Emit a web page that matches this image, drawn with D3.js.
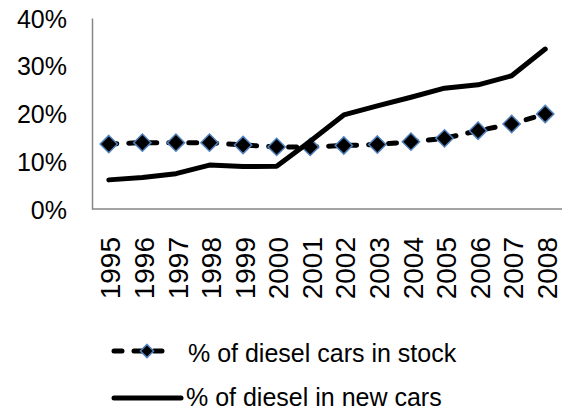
<!DOCTYPE html>
<html>
<head>
<meta charset="utf-8">
<script src="https://cdn.jsdelivr.net/npm/d3@7"></script>
<style>
	body { margin: 0; background: #fff; }
	text { font-family: 'Liberation Sans', Arial, sans-serif; fill: #000; }
</style>
</head>
<body>
<script>
const years = ['1995', '1996', '1997', '1998', '1999', '2000', '2001', '2002', '2003', '2004', '2005', '2006', '2007', '2008']
const stockShare = [13.6, 13.9, 13.9, 13.9, 13.4, 13.0, 13.0, 13.3, 13.5, 14.1, 14.8, 16.4, 17.8, 19.9]
const newCarShare = [6.1, 6.6, 7.4, 9.2, 8.9, 8.95, 14.2, 19.7, 21.6, 23.4, 25.3, 26.0, 27.9, 33.5]
const yTicks = [0, 10, 20, 30, 40]
const seriesNames = ['% of diesel cars in stock', '% of diesel in new cars']

const W = 570, H = 412
const mLeft = 92, mRight = 562, mTop = 18, mBottom = 209

const svg = d3.select('body').append('svg')
	.attr('width', W)
	.attr('height', H)

const x = d3.scalePoint().domain(years).range([mLeft, mRight]).padding(.5)
const y = d3.scaleLinear().domain([0, 40]).range([mBottom, mTop])

// axes, no tick marks
const yAxis = svg.append('g')
	.attr('transform', `translate(${mLeft},0)`)
	.call(d3.axisLeft(y).tickValues(yTicks).tickSize(0).tickPadding(25).tickFormat(d => d + '%'))
yAxis.select('.domain').attr('stroke', '#868686').attr('stroke-width', 1.5)
yAxis.selectAll('.tick text')
	.style('font-size', '25px')
	.attr('dy', '0.36em')

const xAxis = svg.append('g')
	.attr('transform', `translate(0,${mBottom})`)
	.call(d3.axisBottom(x).tickSize(0).tickPadding(0))
xAxis.select('.domain').attr('stroke', '#868686').attr('stroke-width', 1.5)
	.attr('d', `M${mLeft},0H${mRight}`)
xAxis.selectAll('text')
	.style('font-size', '28px')
	.attr('text-anchor', 'end')
	.attr('y', 0)
	.attr('dy', '0.36em')
	.attr('transform', 'translate(1,28) rotate(-90)')

// stock series: dashed with diamonds
const line = d3.line().x((d, i) => x(years[i])).y(d => y(d))

svg.append('path')
	.datum(stockShare)
	.attr('d', line)
	.attr('fill', 'none')
	.attr('stroke', '#000')
	.attr('stroke-width', 5)
	.attr('stroke-dasharray', '8,12')
	.attr('stroke-linecap', 'round')

const diamond = d3.symbol().type(d3.symbolDiamond2).size(190)
svg.selectAll('path.marker')
	.data(stockShare)
	.join('path')
	.attr('class', 'marker')
	.attr('d', diamond)
	.attr('transform', (d, i) => `translate(${x(years[i])},${y(d)})`)
	.attr('fill', '#000')
	.attr('stroke', '#4F81BD')
	.attr('stroke-width', 1.5)

svg.append('path')
	.datum(newCarShare)
	.attr('d', line)
	.attr('fill', 'none')
	.attr('stroke', '#000')
	.attr('stroke-width', 5)
	.attr('stroke-linejoin', 'round')
	.attr('stroke-linecap', 'round')

// legend
const lg = svg.append('g')
lg.append('path')
	.attr('d', 'M114,351H172')
	.attr('stroke', '#000')
	.attr('stroke-width', 5)
	.attr('stroke-dasharray', '8,12')
	.attr('stroke-linecap', 'round')
lg.append('path')
	.attr('d', d3.symbol().type(d3.symbolDiamond2).size(110))
	.attr('transform', 'translate(147,351)')
	.attr('fill', '#000')
	.attr('stroke', '#4F81BD')
	.attr('stroke-width', 1.5)
lg.append('path')
	.attr('d', 'M114,398H181')
	.attr('stroke', '#000')
	.attr('stroke-width', 5)
	.attr('stroke-linecap', 'round')

lg.selectAll('text')
	.data(seriesNames)
	.join('text')
	.attr('x', (d, i) => i ? 186 : 188)
	.attr('y', (d, i) => i ? 406 : 361.5)
	.style('font-size', '25px')
	.text(d => d)
</script>
</body>
</html>
